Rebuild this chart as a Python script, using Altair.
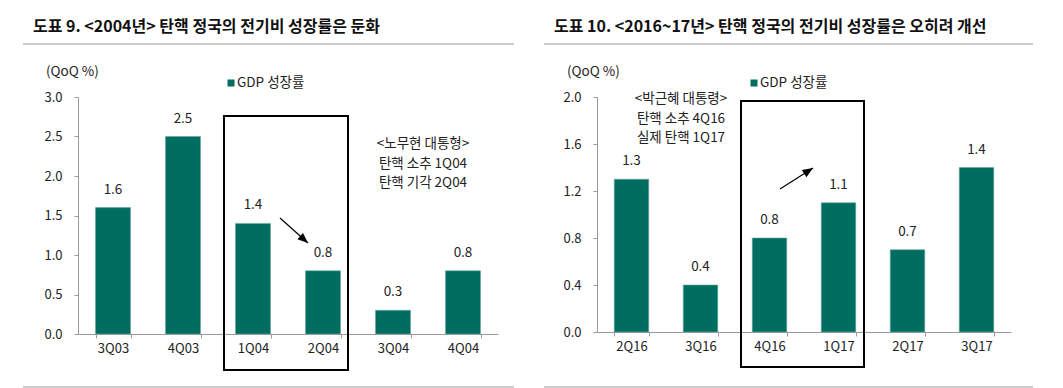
import altair as alt
import pandas as pd

# ---- data ----
cats_left = ["3Q03", "4Q03", "1Q04", "2Q04", "3Q04", "4Q04"]
vals_left = [1.6, 2.5, 1.4, 0.8, 0.3, 0.8]
cats_right = ["2Q16", "3Q16", "4Q16", "1Q17", "2Q17", "3Q17"]
vals_right = [1.3, 0.4, 0.8, 1.1, 0.7, 1.4]
ticks_left = [0.0, 0.5, 1.0, 1.5, 2.0, 2.5, 3.0]
ticks_right = [0.0, 0.4, 0.8, 1.2, 1.6, 2.0]

title_left = "도표 9. <2004년> 탄핵 정국의 전기비 성장률은 둔화"
title_right = "도표 10. <2016~17년> 탄핵 정국의 전기비 성장률은 오히려 개선"
note_left = ["<노무현 대통형>", "탄핵 소추 1Q04", "탄핵 기각 2Q04"]
note_right = ["<박근혜 대통령>", "탄핵 소추 4Q16", "실제 탄핵 1Q17"]
unit_label = "(QoQ %)"
legend_label = "GDP 성장률"

FONT = "Noto Sans CJK KR"
BAR = "#006d61"
TXT = "#222222"
GRAY = "#9a9a9a"

one = alt.Data(values=[{"a": 1}])


def text_at(txt, x, y, color=TXT, **kw):
    return alt.Chart(one).mark_text(text=txt, font=FONT, color=color, **kw).encode(
        x=alt.value(x), y=alt.value(y))


def hrule(x1, x2, y, color=GRAY, width=1.2):
    return alt.Chart(one).mark_rule(color=color, strokeWidth=width).encode(
        x=alt.value(x1), x2=alt.value(x2), y=alt.value(y))


def box(x1, x2, y1, y2):
    return alt.Chart(one).mark_rect(fillOpacity=0, stroke="black", strokeWidth=2).encode(
        x=alt.value(x1), x2=alt.value(x2), y=alt.value(y1), y2=alt.value(y2))


def arrow(x1, y1, x2, y2, angle):
    line = alt.Chart(one).mark_rule(color="black", strokeWidth=1.2).encode(
        x=alt.value(x1), y=alt.value(y1), x2=alt.value(x2), y2=alt.value(y2))
    head = alt.Chart(one).mark_point(
        shape="M0,0L-0.8,2L0.8,2Z", filled=True, color="black", opacity=1,
        size=110, angle=angle).encode(x=alt.value(x2), y=alt.value(y2))
    return line + head


def panel(cats, vals, ymax, ticks, width, height, title, note, deco):
    df = pd.DataFrame({"q": cats, "v": vals})
    x = alt.X("q:N", sort=cats, title=None,
              scale=alt.Scale(paddingInner=0.5, paddingOuter=0.25),
              axis=alt.Axis(labelAngle=0, tickBand="extent", tickSize=4,
                            labelPadding=4, domainColor=GRAY, tickColor=GRAY,
                            labelFont=FONT, labelFontSize=13, labelColor=TXT))
    y = alt.Y("v:Q", title=None,
              scale=alt.Scale(domain=[0, ymax], nice=False),
              axis=alt.Axis(values=ticks, format=".1f", tickSize=4, labelPadding=12,
                            labelOverlap=False, grid=False, domainColor=GRAY,
                            tickColor=GRAY, labelFont=FONT, labelFontSize=13,
                            labelColor=TXT))
    base = alt.Chart(df).encode(x=x, y=y)
    bars = base.mark_bar(color=BAR, stroke="#6aa9a0", strokeWidth=0.6)
    labels = base.mark_text(dy=-18, baseline="middle", font=FONT, fontSize=13.5,
                            color=TXT).encode(text=alt.Text("v:Q", format=".1f"))
    d = deco
    layers = [
        bars, labels,
        hrule(d["r1"], d["r2"], -53),
        hrule(d["r1"], d["r2"], 290),
        text_at(title, d["tx"], -65, color="#111111", fontSize=16, fontWeight="bold",
                align="left", baseline="alphabetic"),
        text_at(unit_label, d["ux"], -25, fontSize=13.5, align="left", baseline="middle"),
        alt.Chart(one).mark_square(color=BAR, size=49, opacity=1).encode(
            x=alt.value(d["lx"]), y=alt.value(-14)),
        text_at(legend_label, d["lx"] + 6, -14, fontSize=13.5, align="left", baseline="middle"),
        box(d["bx1"], d["bx2"], d["by1"], d["by2"]),
        text_at(note, d["nx"], d["ny"], fontSize=13.5, align="center", baseline="middle",
                lineHeight=19.5),
        arrow(*d["arrow"]),
    ]
    return alt.layer(*layers).properties(width=width, height=height)


left = panel(cats_left, vals_left, 3.0, ticks_left, 420, 237, title_left, note_left,
             dict(r1=-55, r2=436, tx=-45, ux=-32, lx=153, bx1=146, bx2=270, by1=19, by2=273,
                  nx=345, ny=47, arrow=(202, 121, 230, 146, 131.8)))
right = panel(cats_right, vals_right, 2.0, ticks_right, 414, 235, title_right, note_right,
              dict(r1=-53, r2=436, tx=-43, ux=-30, lx=157, bx1=144, bx2=267, by1=4, by2=270,
                   nx=84, ny=2, arrow=(183, 92, 216, 71, 57.5)))

chart = alt.hconcat(left, right, spacing=99, bounds="flush").properties(
    padding={"left": 14, "top": 11, "right": 5, "bottom": 5}
).configure(font=FONT).configure_view(stroke=None)

chart.save("out.html", embed_options={"renderer": "svg", "actions": False})
